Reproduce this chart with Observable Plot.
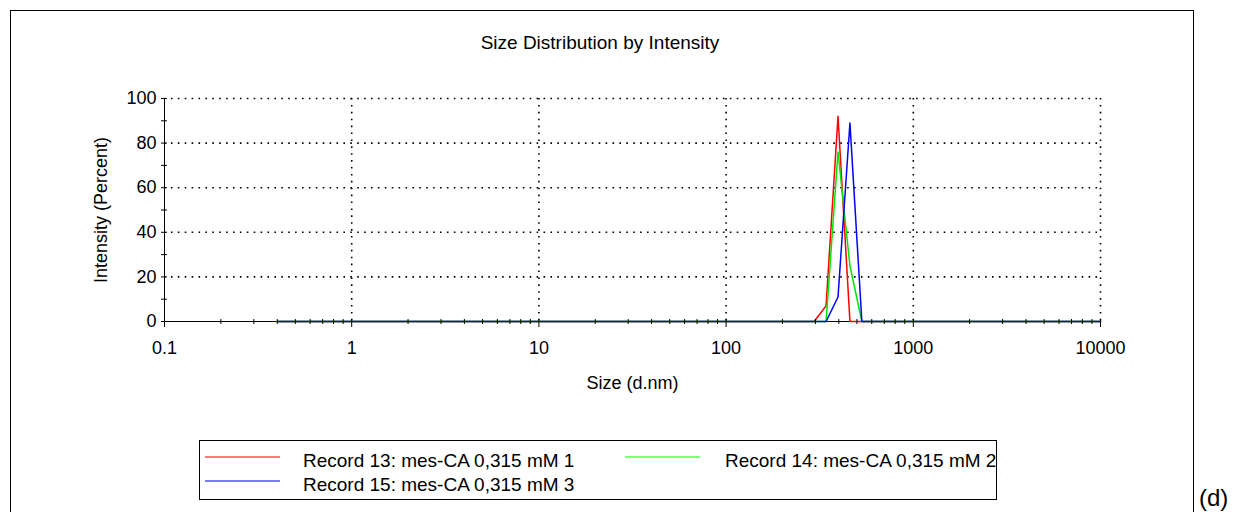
<!DOCTYPE html>
<html>
<head>
<meta charset="utf-8">
<script src="https://cdn.jsdelivr.net/npm/d3@7"></script>
<script src="https://cdn.jsdelivr.net/npm/@observablehq/plot@0.6"></script>
<style>
  html, body { margin: 0; padding: 0; background: #fff; }
  #page { position: relative; width: 1234px; height: 512px; overflow: hidden; background: #fff;
          font-family: "Liberation Sans", Arial, sans-serif; color: #000; }
  #frame { position: absolute; left: 10px; top: 10px; width: 1184px; height: 540px; border: 1px solid #000; box-sizing: border-box; }
  #title { position: absolute; left: 0; width: 1200px; top: 32px; text-align: center; font-size: 19px; }
  #chart { position: absolute; left: 0; top: 60px; }
  #legend { position: absolute; left: 199px; top: 440px; width: 798px; height: 60px; border: 1px solid #000; box-sizing: border-box; font-size: 19px; }
  .swatch { position: absolute; width: 75px; height: 0; }
  .lab { position: absolute; white-space: nowrap; }
  #tag { position: absolute; left: 1199px; top: 484px; font-size: 24px; }
</style>
</head>
<body>
<div id="page">
  <div id="frame"></div>
  <div id="title">Size Distribution by Intensity</div>
  <div id="chart"></div>
  <div id="legend"></div>
  <div id="tag">(d)</div>
</div>
<script>
// Size classes (d.nm)
const sizes = [0.4, 0.4632, 0.5365, 0.6213, 0.7195, 0.8332, 0.9649, 1.117, 1.294, 1.499,
  1.736, 2.01, 2.328, 2.696, 3.122, 3.615, 4.187, 4.849, 5.615, 6.503, 7.531, 8.721,
  10.1, 11.7, 13.54, 15.69, 18.17, 21.04, 24.36, 28.21, 32.67, 37.84, 43.82, 50.75,
  58.77, 68.06, 78.82, 91.28, 105.7, 122.4, 141.8, 164.2, 190.1, 220.2, 255.0, 295.3,
  342.0, 396.1, 458.7, 531.2, 615.1, 712.4, 825.0, 955.4, 1106, 1281, 1484, 1718,
  1990, 2305, 2669, 3091, 3580, 4145, 4801, 5560, 6439, 7456, 8635, 10000];

// Intensity (%) per size class; all other classes are 0
const rec13 = {342.0: 7, 396.1: 92};
const rec14 = {396.1: 76, 458.7: 25};
const rec15 = {396.1: 11, 458.7: 89};

const seriesNames = ["Record 13: mes-CA 0,315 mM 1", "Record 14: mes-CA 0,315 mM 2", "Record 15: mes-CA 0,315 mM 3"];
const seriesColors = ["#ff0000", "#00e600", "#0000ff"];
const legendColors = ["#ff7a7a", "#7aff7a", "#7a7aff"];
const seriesValues = [rec13, rec14, rec15];

const xTicks = [0.1, 1, 10, 100, 1000, 10000];
const xTickLabels = ["0.1", "1", "10", "100", "1000", "10000"];
const yTicks = [0, 20, 40, 60, 80, 100];
const yMinorTicks = [10, 30, 50, 70, 90];

const rows = [];
seriesValues.forEach((vals, i) => {
  sizes.forEach(s => rows.push({series: seriesNames[i], size: s, intensity: vals[s] ?? 0}));
});

const xMinor = [];
for (let d = 0.1; d < 10000; d *= 10) for (let k = 2; k <= 9; k++) xMinor.push(+(d * k).toPrecision(3));

const dots = "1.6 5.3";
const plot = Plot.plot({
  width: 1234,
  height: 340,
  marginLeft: 164,
  marginRight: 134,
  marginTop: 38,
  marginBottom: 79,
  style: {fontFamily: '"Liberation Sans", Arial, sans-serif', fontSize: "18px", background: "transparent", color: "#000"},
  x: {type: "log", domain: [0.1, 10000], range: [164, 1100]},
  y: {domain: [0, 100]},
  color: {domain: seriesNames, range: seriesColors},
  marks: [
    Plot.ruleX(xTicks.slice(1), {stroke: "#000", strokeWidth: 1.6, strokeDasharray: dots}),
    Plot.ruleY(yTicks.slice(1), {stroke: "#000", strokeWidth: 1.6, strokeDasharray: dots}),
    Plot.ruleX([0.1], {stroke: "#000", strokeWidth: 1}),
    Plot.ruleY([0], {stroke: "#000", strokeWidth: 1}),
    // y axis: labels, major and minor crossing ticks
    Plot.axisY(yTicks, {tickSize: 0, tickPadding: 8, fontSize: 18, label: "Intensity (Percent)", labelAnchor: "center", labelOffset: 70, labelArrow: "none"}),
    Plot.axisY(yTicks.concat(yMinorTicks), {tickSize: 6, dx: 3, text: null, label: null, stroke: "#000"}),
    // x axis labels
    Plot.axisX(xTicks, {tickSize: 0, tickPadding: 20, fontSize: 18, tickFormat: d => xTickLabels[xTicks.indexOf(d)], label: "Size (d.nm)", labelAnchor: "center", labelOffset: 67, labelArrow: "none"}),
    // series
    Plot.line(rows, {x: "size", y: "intensity", z: "series", stroke: "series", strokeWidth: 1.5, curve: "linear"}),
    // x ticks drawn over the lines
    Plot.axisX(xTicks, {tickSize: 8, dy: -2, text: null, label: null, stroke: "#000"}),
    Plot.axisX(xMinor, {tickSize: 5, dy: -2, text: null, label: null, stroke: "#000"})
  ]
});
document.getElementById("chart").appendChild(plot);

// legend
const legend = document.getElementById("legend");
const pos = [[5, 15, 103, 9], [425, 15, 525, 9], [5, 39, 103, 33]];
seriesNames.forEach((name, i) => {
  const sw = document.createElement("div");
  sw.className = "swatch";
  sw.style.left = pos[i][0] + "px";
  sw.style.top = pos[i][1] + "px";
  sw.style.borderTop = "2px solid " + legendColors[i];
  legend.appendChild(sw);
  const lab = document.createElement("div");
  lab.className = "lab";
  lab.style.left = pos[i][2] + "px";
  lab.style.top = pos[i][3] + "px";
  lab.textContent = name;
  legend.appendChild(lab);
});
</script>
</body>
</html>
